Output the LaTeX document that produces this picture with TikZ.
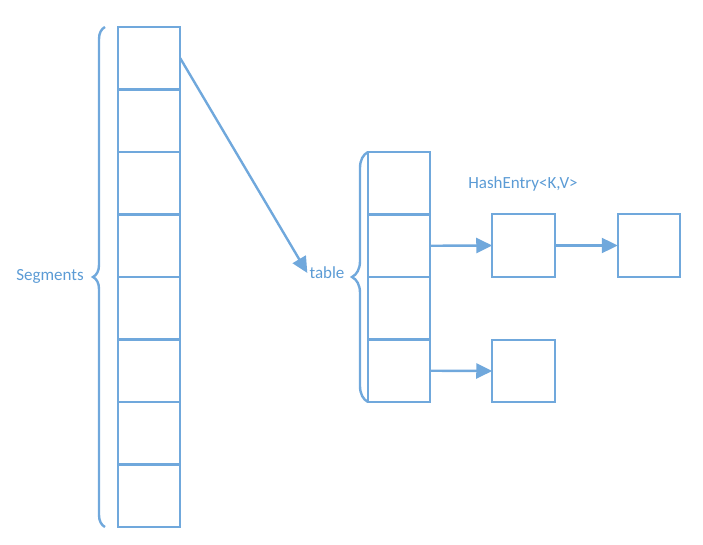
\documentclass[tikz,border=0pt]{standalone}
\usepackage{fontspec}
\setmainfont{Carlito}
\usetikzlibrary{arrows.meta,decorations.pathreplacing}
\definecolor{cellblue}{RGB}{112,168,220}
\definecolor{textblue}{RGB}{91,155,213}
\tikzset{
  cell/.style={draw=cellblue,line width=2.4pt,minimum width=62.5pt,minimum height=62.5pt,inner sep=0pt,outer sep=0pt},
  link/.style={draw=cellblue,line width=2.4pt,-{Triangle[length=16pt,width=15pt]}},
  curly/.style={draw=cellblue,line width=2.4pt,decorate,decoration={brace,amplitude=#1}},
  lbl/.style={text=textblue,font=\fontsize{17}{20}\selectfont,inner sep=2pt}
}
\begin{document}
\begin{tikzpicture}[x=1pt,y=-1pt]
\useasboundingbox (0,0) rectangle (703,545);
% segment array
\foreach \i in {1,...,8}
  \node[cell] (seg\i) at (149,{58.25+62.5*(\i-1)}) {};
% table array
\foreach \i in {1,...,4}
  \node[cell] (tab\i) at (399,{183.25+62.5*(\i-1)}) {};
% entries
\node[cell] (entry1) at (523.5,245.5) {};
\node[cell] (entry2) at (649,245.5) {};
\node[cell] (entry3) at (523.5,371) {};
% labels
\node[lbl] (lblseg) at (50,276) {Segments};
\node[lbl] (lbltab) at (327,273) {table};
\node[lbl] (lblentry) at (523,184) {HashEntry<K,V>};
% braces
\draw[curly=12pt] (105,527) -- (105,27);
\draw[curly=16pt] (368,402) -- (368,152);
% links
\draw[link] (seg1.east) -- (lbltab.west);
\draw[link] (tab2.east) -- (entry1.west);
\draw[link] (entry1.east) -- (entry2.west);
\draw[link] (tab4.east) -- (entry3.west);
\end{tikzpicture}
\end{document}
